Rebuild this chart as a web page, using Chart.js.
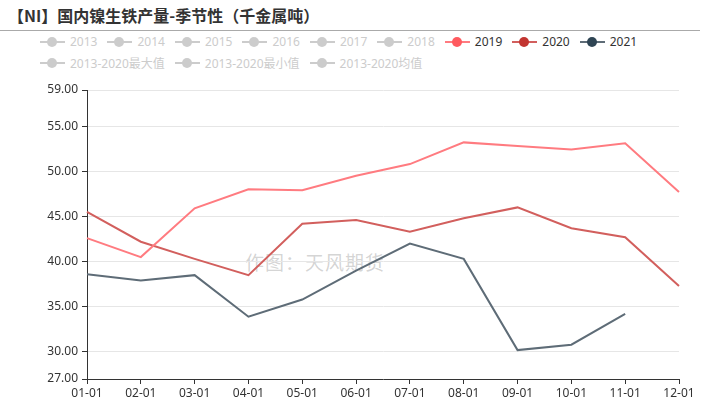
<!DOCTYPE html>
<html>
<head>
<meta charset="utf-8">
<script src="https://cdn.jsdelivr.net/npm/chart.js@4.4.1/dist/chart.umd.min.js"></script>
<style>
  body { margin: 0; background: #fff; font-family: "Noto Sans", "Noto Sans CJK SC", sans-serif; }
  #wrap { position: relative; width: 707px; height: 407px; overflow: hidden; }
  #title { position: absolute; left: 8px; top: 3px; font-size: 16px; font-weight: bold; color: #333; font-family: "Noto Sans CJK SC", sans-serif; }
  #rule { position: absolute; left: 0; top: 30px; width: 700px; height: 1px; background: #aaa; }
  #legend { position: absolute; left: 40px; top: 31px; width: 625px; display: flex; flex-wrap: wrap; }
  .item { display: flex; align-items: center; height: 21px; margin-right: 10px; font-size: 12px; }
  .mark { position: relative; width: 25px; height: 14px; margin-right: 5px; }
  .mark .ln { position: absolute; left: 0; top: 6px; width: 25px; height: 2px; }
  .mark .dot { position: absolute; left: 7px; top: 2px; width: 10px; height: 10px; border-radius: 50%; }
  #mark-wm { position: absolute; left: 245px; top: 248px; font-size: 19px; color: rgba(160,160,160,0.45); letter-spacing: 1px; font-family: "Noto Sans CJK SC", sans-serif; }
  #box { position: absolute; left: 0; top: 0; width: 707px; height: 407px; }
</style>
</head>
<body>
<div id="wrap">
  <div id="title">【NI】国内镍生铁产量-季节性（千金属吨）</div>
  <div id="rule"></div>
  <div id="legend"></div>
  <div id="mark-wm">作图：天风期货</div>
  <div id="box"><canvas id="chart"></canvas></div>
</div>
<script>
const months = ["01-01", "02-01", "03-01", "04-01", "05-01", "06-01", "07-01", "08-01", "09-01", "10-01", "11-01", "12-01"];
const y2019 = [42.6, 40.5, 45.9, 48.0, 47.9, 49.5, 50.8, 53.2, 52.8, 52.4, 53.1, 47.7];
const y2020 = [45.5, 42.2, 40.3, 38.5, 44.2, 44.6, 43.3, 44.8, 46.0, 43.7, 42.7, 37.3];
const y2021 = [38.6, 37.9, 38.5, 33.9, 35.8, 39.0, 42.0, 40.3, 30.2, 30.8, 34.2];
const yTicks = [27, 30, 35, 40, 45, 50, 55, 59];

const legendNames = ["2013", "2014", "2015", "2016", "2017", "2018", "2019", "2020", "2021",
  "2013-2020最大值", "2013-2020最小值", "2013-2020均值"];
const active = {
  "2019": { line: "#ff7b80", dot: "#ff5a5f" },
  "2020": { line: "#d25f5d", dot: "#c23531" },
  "2021": { line: "#5e6c77", dot: "#2f4554" }
};

const legend = document.getElementById("legend");
legendNames.forEach(name => {
  const on = active[name];
  const item = document.createElement("div");
  item.className = "item";
  item.innerHTML = '<div class="mark"><div class="ln" style="background:' + (on ? on.line : "#ccc") +
    '"></div><div class="dot" style="background:' + (on ? on.dot : "#ccc") + '"></div></div>' +
    '<span style="color:' + (on ? "#333" : "#ccc") + '">' + name + '</span>';
  legend.appendChild(item);
});

const mkSet = (label, data) => ({
  label: label,
  data: data,
  borderColor: active[label].line,
  backgroundColor: active[label].dot,
  borderWidth: 2,
  pointRadius: 0,
  tension: 0,
  fill: false
});

const tickFont = { size: 12, family: "'Noto Sans', 'Noto Sans CJK SC', sans-serif" };

new Chart(document.getElementById("chart"), {
  type: "line",
  data: {
    labels: months,
    datasets: [mkSet("2019", y2019), mkSet("2020", y2020), mkSet("2021", y2021)]
  },
  options: {
    responsive: true,
    maintainAspectRatio: false,
    animation: false,
    layout: { padding: { top: 90, right: 28, left: 0, bottom: 0 } },
    plugins: { legend: { display: false }, tooltip: { enabled: false } },
    scales: {
      x: {
        offset: false,
        grid: { drawOnChartArea: false, tickColor: "#333", tickLength: 5 },
        border: { color: "#333", width: 1 },
        ticks: { color: "#333", font: tickFont, maxRotation: 0, autoSkip: false, padding: 2 },
        afterFit: s => { s.height = 28; }
      },
      y: {
        min: 27,
        max: 59,
        afterBuildTicks: s => { s.ticks = yTicks.map(v => ({ value: v })); },
        grid: { color: "#e6e6e6", tickColor: "#333", tickLength: 5 },
        border: { color: "#333", width: 1 },
        ticks: { color: "#333", font: tickFont, padding: 4, callback: v => v.toFixed(2) },
        afterFit: s => { s.width = 87; }
      }
    }
  }
});
</script>
</body>
</html>
